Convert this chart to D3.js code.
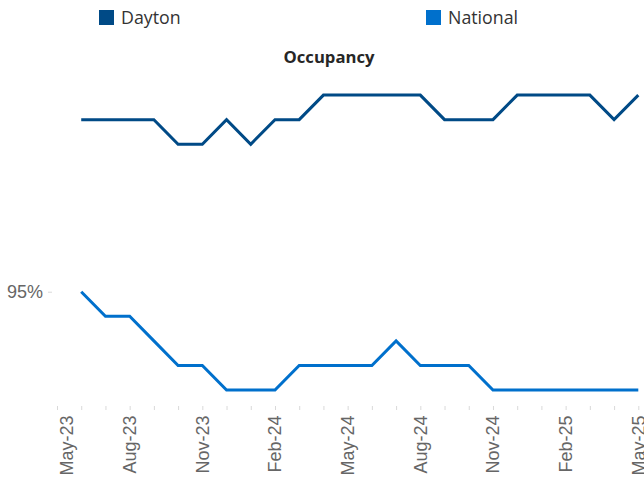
<!DOCTYPE html>
<html><head><meta charset="utf-8">
<script src="https://cdn.jsdelivr.net/npm/d3@7"></script>
<style>
html,body{margin:0;padding:0;background:#fff;}
svg{display:block;}
</style></head>
<body>
<svg id="chart" width="644" height="482"></svg>
<script>
const months = ["May-23","Jun-23","Jul-23","Aug-23","Sep-23","Oct-23","Nov-23","Dec-23","Jan-24","Feb-24","Mar-24","Apr-24","May-24","Jun-24","Jul-24","Aug-24","Sep-24","Oct-24","Nov-24","Dec-24","Jan-25","Feb-25","Mar-25","Apr-25","May-25"];
const dataMonths = months.slice(1);
const dayton = [95.7,95.7,95.7,95.7,95.6,95.6,95.7,95.6,95.7,95.7,95.8,95.8,95.8,95.8,95.8,95.7,95.7,95.7,95.8,95.8,95.8,95.8,95.7,95.8];
const national = [95.0,94.9,94.9,94.8,94.7,94.7,94.6,94.6,94.6,94.7,94.7,94.7,94.7,94.8,94.7,94.7,94.7,94.6,94.6,94.6,94.6,94.6,94.6,94.6];
const labelMonths = ["May-23","Aug-23","Nov-23","Feb-24","May-24","Aug-24","Nov-24","Feb-25","May-25"];
const yTicks = [95];
const seriesNames = ["Dayton","National"];
const colors = ["#004A86","#0070CC"];

const svg = d3.select("#chart");
const plotLeft = 57, plotRight = 638.3, plotTop = 71, plotBottom = 406;

const x = d3.scalePoint().domain(months).range([plotLeft, plotRight]);
const y = d3.scaleLinear().domain([94.535, 95.898]).range([plotBottom, plotTop]);

// y axis
const yAxis = svg.append("g").attr("transform", `translate(52,0)`)
  .call(d3.axisLeft(y).tickValues(yTicks).tickSize(4).tickPadding(5).tickFormat(d => d3.format(".0f")(d) + "%"));
yAxis.select(".domain").remove();
yAxis.selectAll(".tick line").attr("stroke", "#d9d9d9");
yAxis.selectAll(".tick text").attr("fill", "#666666").attr("font-family", "Liberation Sans, Arial, sans-serif").attr("font-size", 18);

// x axis
const xAxis = svg.append("g").attr("transform", `translate(0,${plotBottom})`)
  .call(d3.axisBottom(x).tickSize(4).tickFormat(""));
xAxis.select(".domain").remove();
xAxis.selectAll(".tick line").attr("stroke", "#d9d9d9");

const firstX = x(labelMonths[0]);
svg.append("g").selectAll("text").data(labelMonths).join("text")
  .attr("transform", d => `translate(${Math.max(x(d), firstX + 9.5)},415.5) rotate(-90)`)
  .attr("text-anchor", "end")
  .attr("dy", "0.35em")
  .attr("fill", "#666666")
  .attr("font-family", "Liberation Sans, Arial, sans-serif")
  .attr("font-size", 18)
  .text(d => d);

// lines
const line = d3.line().x((d, i) => x(dataMonths[i])).y(d => y(d));
[dayton, national].forEach((s, k) => {
  svg.append("path").datum(s)
    .attr("d", line)
    .attr("fill", "none")
    .attr("stroke", colors[k])
    .attr("stroke-width", 3)
    .attr("stroke-linejoin", "miter");
});

// title
svg.append("text").attr("x", 329).attr("y", 62.5)
  .attr("text-anchor", "middle")
  .attr("font-family", "Open Sans, sans-serif")
  .attr("font-weight", "bold").attr("font-size", 16.7)
  .attr("fill", "#262626")
  .text("Occupancy");

// legend
const legendX = [99, 426];
const lg = svg.append("g").selectAll("g").data(seriesNames).join("g")
  .attr("transform", (d, i) => `translate(${legendX[i]},0)`);
lg.append("rect").attr("x", 0).attr("y", 10).attr("width", 15).attr("height", 15)
  .attr("fill", (d, i) => colors[i]);
lg.append("text").attr("x", 22).attr("y", 24)
  .attr("font-family", "Open Sans, sans-serif").attr("font-size", 17.8)
  .attr("fill", "#333333")
  .text(d => d);
</script>
</body></html>
